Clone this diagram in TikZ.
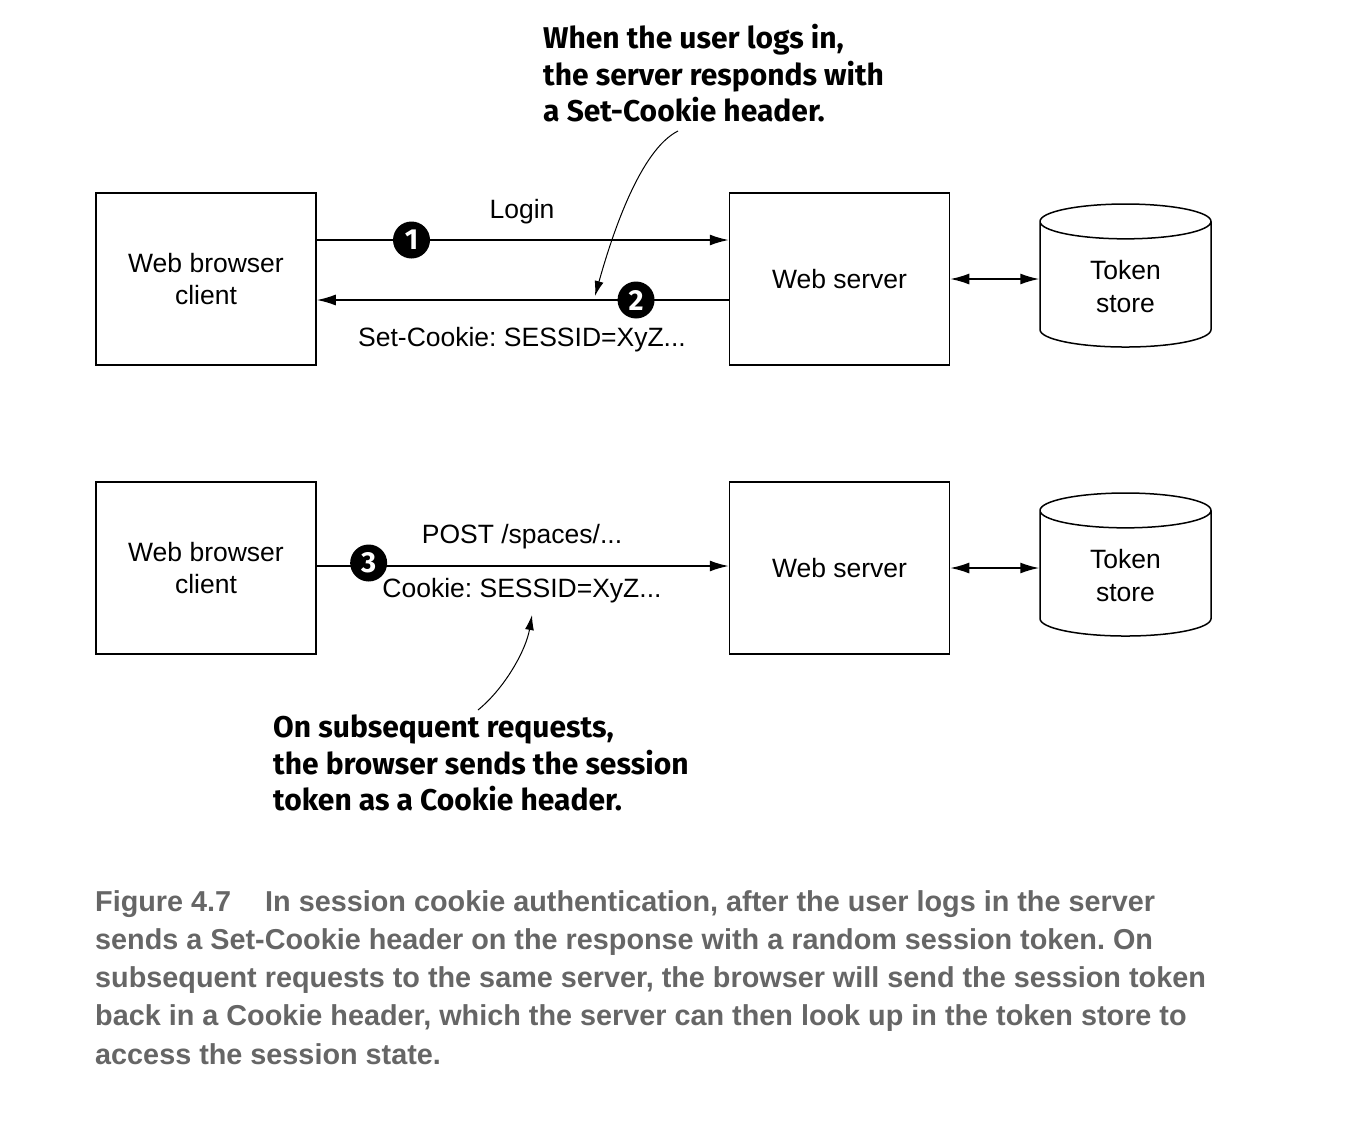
\documentclass[tikz,border=0pt]{standalone}
\usepackage{fontspec}
\usepackage{xcolor}
\setmainfont{Liberation Sans}
\newfontfamily\notefont{Fira Sans}
\usetikzlibrary{arrows.meta,shapes.geometric,positioning}
\definecolor{captiongray}{HTML}{666666}
\frenchspacing

\begin{document}
\begin{tikzpicture}[x=1pt,y=-1pt,
	box/.style={draw,line width=1.5pt,minimum width=220pt,minimum height=172pt,align=center,font=\fontsize{26.5}{32.5}\selectfont},
	store/.style={draw,line width=1.5pt,cylinder,shape border rotate=90,aspect=0.45,minimum width=171pt,minimum height=143pt,align=center,font=\fontsize{26.5}{33}\selectfont},
	msg/.style={line width=1.6pt,-{Latex[length=19pt,width=11pt]}},
	both/.style={line width=1.6pt,{Latex[length=19pt,width=11pt]}-{Latex[length=19pt,width=11pt]}},
	pointer/.style={line width=1pt,-{Latex[length=15pt,width=9pt]}},
	label/.style={font=\fontsize{26.5}{33}\selectfont,inner sep=0pt},
	stepnum/.style={circle,fill=black,inner sep=0pt,minimum size=37pt,text=white,font=\notefont\bfseries\fontsize{29}{29}\selectfont},
	note/.style={align=left,inner sep=0pt,font=\notefont\bfseries\fontsize{30}{36.5}\selectfont}
	]
	\useasboundingbox (0,0) rectangle (1361,1120);

	% login
	\node[box] (client1) at (206,279) {Web browser\\client};
	\node[box] (server1) at (839.5,279) {Web server};
	\node[store] (store1) at (1125.5,287) {Token\\store};
	\draw[msg] ([yshift=39pt]client1.east) -- node[stepnum,pos=0.23] (one) {1} ([yshift=39pt]server1.west);
	\draw[msg] ([yshift=-21pt]server1.west) -- node[stepnum,pos=0.225] (two) {2} ([yshift=-21pt]client1.east);
	\draw[both] (server1) -- (store1.west |- server1);
	\node[label] (login) at (522,212) {Login};
	\node[label] (setcookie) at (522,340) {Set-Cookie: SESSID=XyZ...};

	\node[note,anchor=north west] (note1) at (543,24) {When the user logs in,\\the server responds with\\a Set-Cookie header.};
	\coordinate (from1) at (678,131);
	\coordinate (tip1) at (595,296);
	\draw[pointer] (from1) .. controls (640,150) and (612,235) .. (tip1);

	% later requests
	\node[box] (client2) at (206,568) {Web browser\\client};
	\node[box] (server2) at (839.5,568) {Web server};
	\node[store] (store2) at (1125.5,576) {Token\\store};
	\draw[msg] ([yshift=2pt]client2.east) -- node[stepnum,pos=0.126,yshift=3pt] (three) {3} ([yshift=2pt]server2.west);
	\draw[both] (server2) -- (store2.west |- server2);
	\node[label] (post) at (522,537) {POST /spaces/...};
	\node[label] (cookie) at (522,591) {Cookie: SESSID=XyZ...};

	\node[note,anchor=north west] (note2) at (273,715) {On subsequent requests,\\the browser sends the session\\token as a Cookie header.};
	\coordinate (from2) at (478,710);
	\coordinate (tip2) at (532,615);
	\draw[pointer] (from2) .. controls (505,688) and (526,650) .. (tip2);

	% caption
	\node[anchor=north west,align=left,inner sep=0pt,text=captiongray,font=\bfseries\fontsize{28.8}{38.3}\selectfont] (caption) at (95,890)
	{Figure 4.7\hspace{34pt}In session cookie authentication, after the user logs in the server\\
	sends a Set-Cookie header on the response with a random session token. On\\
	subsequent requests to the same server, the browser will send the session token\\
	back in a Cookie header, which the server can then look up in the token store to\\
	access the session state.};
\end{tikzpicture}
\end{document}
